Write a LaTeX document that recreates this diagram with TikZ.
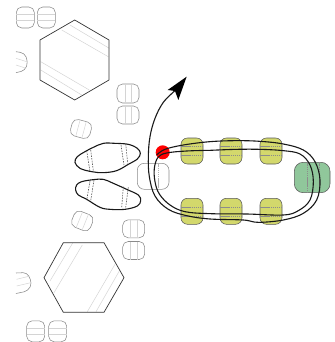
\documentclass[tikz,border=0pt]{standalone}
\usetikzlibrary{arrows.meta}
\definecolor{padyellow}{HTML}{D3D86C}
\definecolor{padgreen}{HTML}{90C79B}
\definecolor{stripe}{HTML}{D4D4D4}
\definecolor{padedge}{HTML}{8A8A8A}
\tikzset{
  hexa/.style={draw=black!80,line width=0.7pt,line join=round},
  stripeline/.style={draw=stripe,line width=0.5pt},
  padline/.style={draw=padedge,line width=0.55pt},
  coppad/.style={draw=black!65,line width=0.55pt},
  track/.style={draw=black!90,line width=1.1pt,line cap=round,line join=round},
  slot/.style={draw=black!70,line width=0.55pt,dash pattern=on 1.6pt off 1.1pt},
  innerdash/.style={draw=black!45,line width=0.4pt,dash pattern=on 1.5pt off 0.6pt}
}
% centre x, centre y, width, height, rotation: pad with two lengthwise stripes
\newcommand{\graypadV}[5]{\begin{scope}[shift={(#1,#2)},rotate=#5]
  \draw[padline,rounded corners=5.5pt] (-#3/2,-#4/2) rectangle (#3/2,#4/2);
  \draw[stripeline] (-3.2,-#4/2) -- (-3.2,#4/2) (3.2,-#4/2) -- (3.2,#4/2);
\end{scope}}
\newcommand{\yellowpad}[2]{\begin{scope}[shift={(#1,#2)}]
  \draw[coppad,fill=padyellow,rounded corners=6.5pt] (-11,-13) rectangle (11,13);
  \draw[innerdash] (-11,-4.5) -- (11,-4.5) (-11,4.5) -- (11,4.5);
\end{scope}}
\begin{document}
\begin{tikzpicture}[x=1pt,y=-1pt]
\useasboundingbox (0,0) rectangle (334,342);
% hexagons
\draw[stripeline] (70,25) -- (109.3,48.3) (61.7,30) -- (108.3,56.7) (40.7,61.7) -- (89.3,90) (40.7,70) -- (81.7,95);
\draw[hexa] (74.7,20) -- (109,40) -- (109,80) -- (74.7,100) -- (40,80) -- (40,40) -- cycle;
\draw[stripeline] (72.7,243) -- (50,281) (82.3,245) -- (54,292.7) (115,264.3) -- (87.3,311.7) (119.3,271) -- (96,311.7);
\draw[hexa] (63.3,242.7) -- (104,242.7) -- (124,277.7) -- (104,312.3) -- (63.3,312.3) -- (44,277.7) -- cycle;
% grey pads
\graypadV{25.3}{17.5}{21}{18}{90}
\graypadV{46.3}{17.5}{21}{18}{90}
\graypadV{128}{93.5}{22}{19}{0}
\graypadV{128}{115}{22}{18}{0}
\graypadV{81}{129}{20}{17}{-15}
\graypadV{82.3}{221}{20}{17}{-22}
\graypadV{133.7}{228.8}{22}{18}{0}
\graypadV{133.7}{250.5}{22}{18}{0}
\graypadV{35.7}{331.3}{21}{18}{90}
\graypadV{57.7}{331.3}{21}{18}{90}
% pads cut by the left edge
\draw[padline,rounded corners=4pt] (16,51.7) -- (24.5,53) -- (28,62) -- (25,70.5) -- (16,72.7);
\draw[stripeline] (16,58.3) -- (26.7,61.7) (16,65) -- (26,68.3);
\draw[padline,rounded corners=4pt] (16,273) -- (27,272.5) -- (32,283) -- (28,291) -- (16,293.5);
\draw[stripeline] (16.7,279.3) -- (30,276) (16.7,286) -- (30.7,282.7);
% footprint shapes
\begin{scope}[shift={(60,130)},scale=1/3]
\draw[track] plot[smooth cycle,tension=0.6] coordinates {(45,97) (52,80) (75,65) (100,52) (130,40) (165,40) (205,43) (232,55) (241,70) (232,87) (205,103) (170,122) (130,128) (95,125) (60,115)};
\draw[track] plot[smooth cycle,tension=0.6] coordinates {(47,180) (50,165) (65,155) (100,149) (130,148) (160,160) (200,178) (235,195) (242,212) (232,228) (195,238) (150,238) (120,232) (80,208) (55,195)};
\end{scope}
\draw[slot] (86.7,150.7) -- (90,171.7) (90.7,150) -- (93.3,170.7) (121,145) -- (124,165) (125.7,144) -- (127.7,163.3);
\draw[slot] (90,181) -- (86.7,200) (94,180) -- (90.7,200.7) (123.3,186.7) -- (121.7,207.3) (128.3,187.3) -- (125.7,207.3);
% white pad
\draw[padline,rounded corners=7pt] (137.3,163.3) rectangle (169,189.3);
\draw[innerdash,draw=black!30] (158,163.3) -- (158,189.3);
% coloured pads
\yellowpad{192}{151}
\yellowpad{231}{151}
\yellowpad{271}{151}
\yellowpad{192}{211.3}
\yellowpad{231}{211.3}
\yellowpad{271}{211.3}
\draw[coppad,fill=padgreen,rounded corners=9pt] (294.3,162.3) rectangle (330,192.7);
\draw[innerdash] (306.7,162.3) -- (306.7,192.7) (319,162.3) -- (319,192.7);
% red via
\fill[red] (162.7,152.3) circle (7);
% tracks
\begin{scope}[shift={(130,70)},scale=1/3]
\draw[track] plot[smooth,tension=0.6] coordinates {(135,62) (100,97) (75,145) (60,200) (55,260) (58,320) (75,378) (115,418) (170,437) (240,447) (340,450) (385,457) (460,450) (520,430) (560,390) (570,330) (555,275) (520,240) (460,222) (390,214) (320,212) (240,215) (160,225) (105,238) (80,255)};
\draw[track] plot[smooth,tension=0.6] coordinates {(240,241) (170,243) (110,249) (84,262) (73,295) (75,335) (88,372) (120,405) (165,425) (240,431) (350,432) (460,435) (505,422) (540,390) (550,335) (540,285) (510,252) (460,242) (390,238) (320,238) (240,241)};
\fill[black] (170,20) -- (113,60) -- (135,63) -- (145,90) -- cycle;
\end{scope}
\end{tikzpicture}
\end{document}
